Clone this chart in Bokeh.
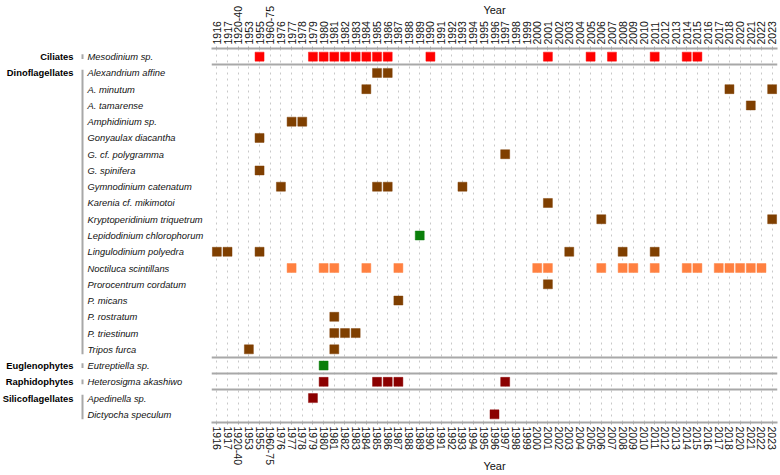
import numpy as np
from bokeh.plotting import figure
from bokeh.models import FactorRange, Range1d, CategoricalAxis, ColumnDataSource
from bokeh.transform import dodge
from bokeh.layouts import row
from bokeh.embed import file_html
from bokeh.resources import INLINE
from bokeh.core.properties import value

# ---------------- data ----------------
years = ["1916", "1917", "1920-40", "1953", "1955", "1960-75",
         "1976", "1977", "1978", "1979", "1980", "1981", "1982", "1983", "1984",
         "1985", "1986", "1987", "1988", "1989", "1990", "1991", "1992", "1993",
         "1994", "1995", "1996", "1997", "1998", "1999", "2000", "2001", "2002",
         "2003", "2004", "2005", "2006", "2007", "2008", "2009", "2010", "2011",
         "2012", "2013", "2014", "2015", "2016", "2017", "2018", "2020", "2021",
         "2022", "2023"]

species = ["Mesodinium sp.", "Alexandrium affine", "A. minutum", "A. tamarense",
           "Amphidinium sp.", "Gonyaulax diacantha", "G. cf. polygramma",
           "G. spinifera", "Gymnodinium catenatum", "Karenia cf. mikimotoi",
           "Kryptoperidinium triquetrum", "Lepidodinium chlorophorum",
           "Lingulodinium polyedra", "Noctiluca scintillans", "Prorocentrum cordatum",
           "P. micans", "P. rostratum", "P. triestinum", "Tripos furca",
           "Eutreptiella sp.", "Heterosigma akashiwo", "Apedinella sp.",
           "Dictyocha speculum"]

groups = ["Ciliates", "Dinoflagellates", "Euglenophytes", "Raphidophytes", "Silicoflagellates"]
group_first = ["Mesodinium sp.", "Alexandrium affine", "Eutreptiella sp.",
               "Heterosigma akashiwo", "Apedinella sp."]
group_last = ["Mesodinium sp.", "Tripos furca", "Eutreptiella sp.",
              "Heterosigma akashiwo", "Dictyocha speculum"]
separators_below = ["Mesodinium sp.", "Tripos furca", "Eutreptiella sp.", "Heterosigma akashiwo"]

# years of occurrence per species
mesodinium = ["1955", "1979", "1980", "1981", "1982", "1983", "1984", "1985", "1986",
              "1990", "2001", "2005", "2007", "2011", "2014", "2015"]
alexandrium_affine = ["1985", "1986"]
a_minutum = ["1984", "2018", "2023"]
a_tamarense = ["2021"]
amphidinium = ["1977", "1978"]
gonyaulax = ["1955"]
g_polygramma = ["1997"]
g_spinifera = ["1955"]
gymnodinium = ["1976", "1985", "1986", "1993"]
karenia = ["2001"]
kryptoperidinium = ["2006", "2023"]
lepidodinium = ["1989"]
lingulodinium = ["1916", "1917", "1955", "2003", "2008", "2011"]
noctiluca = ["1977", "1980", "1981", "1984", "1987", "2000", "2001", "2006", "2008",
             "2009", "2011", "2014", "2015", "2017", "2018", "2020", "2021", "2022"]
prorocentrum = ["2001"]
p_micans = ["1987"]
p_rostratum = ["1981"]
p_triestinum = ["1981", "1982", "1983"]
tripos = ["1953", "1981"]
eutreptiella = ["1980"]
heterosigma = ["1980", "1985", "1986", "1987", "1997"]
apedinella = ["1979"]
dictyocha = ["1996"]

RED, BROWN, ORANGE, GREEN, DARKRED = "#ff0000", "#7f3f00", "#ff8040", "#0a7f0a", "#8b0000"

occurrences = [
    ("Mesodinium sp.", mesodinium, RED),
    ("Alexandrium affine", alexandrium_affine, BROWN),
    ("A. minutum", a_minutum, BROWN),
    ("A. tamarense", a_tamarense, BROWN),
    ("Amphidinium sp.", amphidinium, BROWN),
    ("Gonyaulax diacantha", gonyaulax, BROWN),
    ("G. cf. polygramma", g_polygramma, BROWN),
    ("G. spinifera", g_spinifera, BROWN),
    ("Gymnodinium catenatum", gymnodinium, BROWN),
    ("Karenia cf. mikimotoi", karenia, BROWN),
    ("Kryptoperidinium triquetrum", kryptoperidinium, BROWN),
    ("Lepidodinium chlorophorum", lepidodinium, GREEN),
    ("Lingulodinium polyedra", lingulodinium, BROWN),
    ("Noctiluca scintillans", noctiluca, ORANGE),
    ("Prorocentrum cordatum", prorocentrum, BROWN),
    ("P. micans", p_micans, BROWN),
    ("P. rostratum", p_rostratum, BROWN),
    ("P. triestinum", p_triestinum, BROWN),
    ("Tripos furca", tripos, BROWN),
    ("Eutreptiella sp.", eutreptiella, GREEN),
    ("Heterosigma akashiwo", heterosigma, DARKRED),
    ("Apedinella sp.", apedinella, DARKRED),
    ("Dictyocha speculum", dictyocha, DARKRED),
]

xs, ys, cs = [], [], []
for sp, yrs, col in occurrences:
    for y in yrs:
        xs.append(y); ys.append(sp); cs.append(col)
obs = ColumnDataSource(dict(year=xs, species=ys, color=cs))

# ---------------- layout constants ----------------
H = 475
TOP = 47
BOT = 52
LEFT_W = 211
MAIN_W = 569
FONT = "Liberation Sans"
GRAY = "#a8a8a8"

y_range = FactorRange(factors=species[::-1])

# ---------------- main figure ----------------
p = figure(width=MAIN_W, height=H, x_range=FactorRange(factors=years), y_range=y_range,
           output_backend="svg", toolbar_location=None, x_axis_location="below",
           y_axis_location=None, min_border_left=0, min_border_right=3,
           min_border_top=TOP, min_border_bottom=BOT)
p.outline_line_color = None
p.ygrid.visible = False
p.xgrid.grid_line_dash = "dotted"
p.xgrid.grid_line_color = "#c8c8c8"
p.xgrid.grid_line_width = 1

top_axis = CategoricalAxis()
p.add_layout(top_axis, "above")

for ax, ang, stand in ((p.below[0], -np.pi / 2, -8), (top_axis, np.pi / 2, -13)):
    ax.axis_line_color = GRAY
    ax.axis_line_width = 2
    ax.major_tick_line_color = GRAY
    ax.major_tick_out = 2
    ax.major_tick_in = 0
    ax.minor_tick_out = 0
    ax.major_label_standoff = 2
    ax.major_label_orientation = ang
    ax.major_label_text_font = FONT
    ax.major_label_text_font_size = "10.5px"
    ax.major_label_text_color = "#111111"
    ax.axis_label = "Year"
    ax.axis_label_standoff = stand
    ax.axis_label_text_font = FONT
    ax.axis_label_text_font_size = "11px"
    ax.axis_label_text_font_style = "normal"
    ax.axis_label_text_color = "#111111"

sep_src = ColumnDataSource(dict(sep=separators_below))
p.hspan(y=dodge("sep", -0.5, range=y_range), source=sep_src, line_color=GRAY, line_width=2)

p.scatter(x="year", y="species", source=obs, marker="square", size=9,
          fill_color="color", line_color="color", line_alpha=0.45, line_width=1)

# ---------------- left (label) figure ----------------
q = figure(width=LEFT_W, height=H, x_range=Range1d(0, LEFT_W), y_range=y_range,
           output_backend="svg", toolbar_location=None, x_axis_location=None,
           y_axis_location=None, min_border_left=0, min_border_right=0,
           min_border_top=TOP, min_border_bottom=BOT)
q.outline_line_color = None
q.grid.visible = False

sp_src = ColumnDataSource(dict(name=species))
q.text(x=87, y="name", text="name", source=sp_src, text_font=value(FONT),
       text_font_style="italic", text_font_size="9.4px", text_baseline="middle",
       text_align="left", text_color="#111111")

gr_src = ColumnDataSource(dict(name=groups, first=group_first))
q.text(x=73, y="first", text="name", source=gr_src, text_font=value(FONT),
       text_font_style="bold", text_font_size="9.4px", text_baseline="middle",
       text_align="right", text_color="#000000")

multi = [i for i in range(len(groups)) if group_first[i] != group_last[i]]
single = [i for i in range(len(groups)) if group_first[i] == group_last[i]]
bm = ColumnDataSource(dict(first=[group_first[i] for i in multi], last=[group_last[i] for i in multi]))
bs = ColumnDataSource(dict(first=[group_first[i] for i in single], last=[group_last[i] for i in single]))
q.segment(x0=82, x1=82, y0=dodge("first", 0.2, range=y_range), y1=dodge("last", -0.3, range=y_range),
          source=bm, line_color=GRAY, line_width=2)
q.segment(x0=82, x1=82, y0=dodge("first", 0.15, range=y_range), y1=dodge("last", -0.15, range=y_range),
          source=bs, line_color=GRAY, line_width=2)

layout = row(q, p, spacing=0)
open("out.html", "w").write(file_html(layout, INLINE))
